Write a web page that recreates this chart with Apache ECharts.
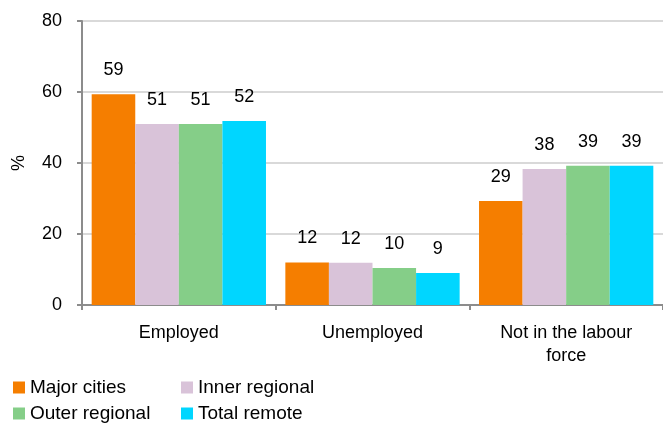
<!DOCTYPE html>
<html>
<head>
<meta charset="utf-8">
<script src="https://cdn.jsdelivr.net/npm/echarts@6/dist/echarts.min.js"></script>
<style>html,body{margin:0;padding:0;background:#fff;}#c{width:663px;height:423px;}</style>
</head>
<body>
<div id="c"></div>
<script>
const categories = ["Employed", "Unemployed", "Not in the labour force"];
const seriesNames = ["Major cities", "Inner regional", "Outer regional", "Total remote"];
const majorCities = [59.4, 12.0, 29.3];
const innerRegional = [51.0, 11.9, 38.3];
const outerRegional = [51.0, 10.4, 39.2];
const totalRemote = [51.8, 9.0, 39.2];
const yTicks = [0, 20, 40, 60, 80];

const colors = ["#F57E00", "#D9C3D9", "#85CE88", "#00D6FF"];
const values = [majorCities, innerRegional, outerRegional, totalRemote];
const FONT = "Liberation Sans";

const legendPos = [[13, 378], [181, 378], [13, 404], [181, 404]];
const legends = seriesNames.map((n, i) => ({
  data: [n], left: legendPos[i][0], top: legendPos[i][1], padding: 0,
  itemWidth: 12, itemHeight: 12, icon: 'rect',
  textStyle: { fontFamily: FONT, fontSize: 19, color: '#000' }
}));

const chart = echarts.init(document.getElementById('c'));
chart.setOption({
  animation: false,
  textStyle: { fontFamily: FONT },
  grid: { left: 82, right: 0, top: 21, bottom: 118, containLabel: false, outerBoundsMode: 'none' },
  legend: legends,
  xAxis: {
    type: 'category',
    data: categories,
    axisLine: { lineStyle: { color: '#8c8c8c', width: 2 } },
    axisTick: { show: true, length: 5, lineStyle: { color: '#8c8c8c', width: 2 } },
    axisLabel: { fontFamily: FONT, fontSize: 18, color: '#000', margin: 17, lineHeight: 23,
      formatter: v => v.replace('labour ', 'labour\n') }
  },
  yAxis: {
    type: 'value',
    min: yTicks[0], max: yTicks[yTicks.length - 1], interval: 20,
    name: '%', nameLocation: 'middle', nameRotate: 90, nameGap: 54,
    nameTextStyle: { fontFamily: FONT, fontSize: 18, color: '#000' },
    axisLine: { show: true, lineStyle: { color: '#8c8c8c', width: 2 } },
    axisTick: { show: true, length: 5, lineStyle: { color: '#8c8c8c', width: 2 } },
    axisLabel: { fontFamily: FONT, fontSize: 18, color: '#000', margin: 20 },
    splitLine: { lineStyle: { color: '#d9d9d9', width: 2 } }
  },
  series: seriesNames.map((n, i) => ({
    name: n, type: 'bar', data: values[i],
    barGap: '0%', barCategoryGap: '10%',
    itemStyle: { color: colors[i] },
    label: { show: true, position: 'top', distance: 15, fontFamily: FONT, fontSize: 18, color: '#000',
      formatter: p => Math.round(p.value) }
  }))
});
</script>
</body>
</html>
